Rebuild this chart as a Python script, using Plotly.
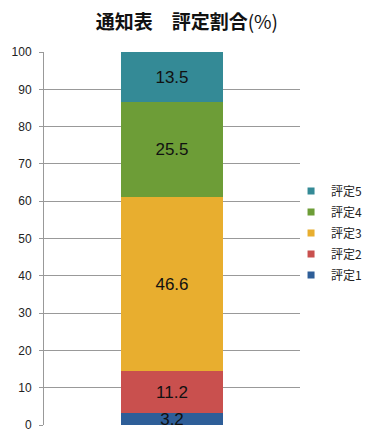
import plotly.graph_objects as go

categories = ["通知表"]
series_names = ["評定1", "評定2", "評定3", "評定4", "評定5"]
values = [3.2, 11.2, 46.6, 25.5, 13.5]
colors = ["#2E5E98", "#C9504E", "#E8AE2F", "#6D9D37", "#348A96"]
y_ticks = [0, 10, 20, 30, 40, 50, 60, 70, 80, 90, 100]

fig = go.Figure()
for name, v, c in zip(series_names, values, colors):
    fig.add_trace(go.Bar(
        x=categories, y=[v], name=name, marker=dict(color=c, line=dict(width=0)),
        text=[f"{v}"], textposition="inside", insidetextanchor="middle",
        textfont=dict(size=17, color="#111111", family="Arial, Liberation Sans"),
        width=0.4, cliponaxis=False, showlegend=False,
    ))
# legend entries with small square markers (top to bottom: 評定5 ... 評定1)
for name, c in reversed(list(zip(series_names, colors))):
    fig.add_trace(go.Scatter(
        x=[None], y=[None], mode="markers", name=name, legendgroup=name,
        marker=dict(symbol="square", size=7, color=c), showlegend=True,
    ))

# page body has an 8px margin, so the figure is sized to fit the 373x439 window
fig.update_layout(
    width=365, height=431,
    barmode="stack",
    paper_bgcolor="white", plot_bgcolor="white",
    margin=dict(l=36, r=73, t=44, b=14, autoexpand=False),
    title=dict(text="<b>通知表　評定割合</b>(%)", x=0.49, xanchor="center", y=0.9675, yanchor="middle",
               font=dict(size=19, color="#111111", family="Noto Sans CJK JP")),
    font=dict(family="Noto Sans CJK JP", color="#222222"),
    legend=dict(x=0.965, xanchor="left", y=0.515, yanchor="middle", traceorder="grouped",
                font=dict(size=12, color="#222222", family="Noto Sans CJK JP"),
                itemwidth=30, tracegroupgap=2, bgcolor="rgba(0,0,0,0)"),
    showlegend=True,
    uniformtext=dict(mode="show", minsize=10),
)
fig.update_xaxes(showticklabels=False, showgrid=False, zeroline=False, showline=False)
fig.update_yaxes(range=[0, 100], tickvals=y_ticks, showgrid=True, gridcolor="#999999", gridwidth=1,
                 showline=True, linecolor="#999999", linewidth=1, ticks="outside", ticklen=4,
                 tickcolor="#999999", zeroline=False, ticklabelstandoff=5,
                 tickfont=dict(size=12, color="#222222", family="Liberation Sans"))
fig.write_html("out.html")
